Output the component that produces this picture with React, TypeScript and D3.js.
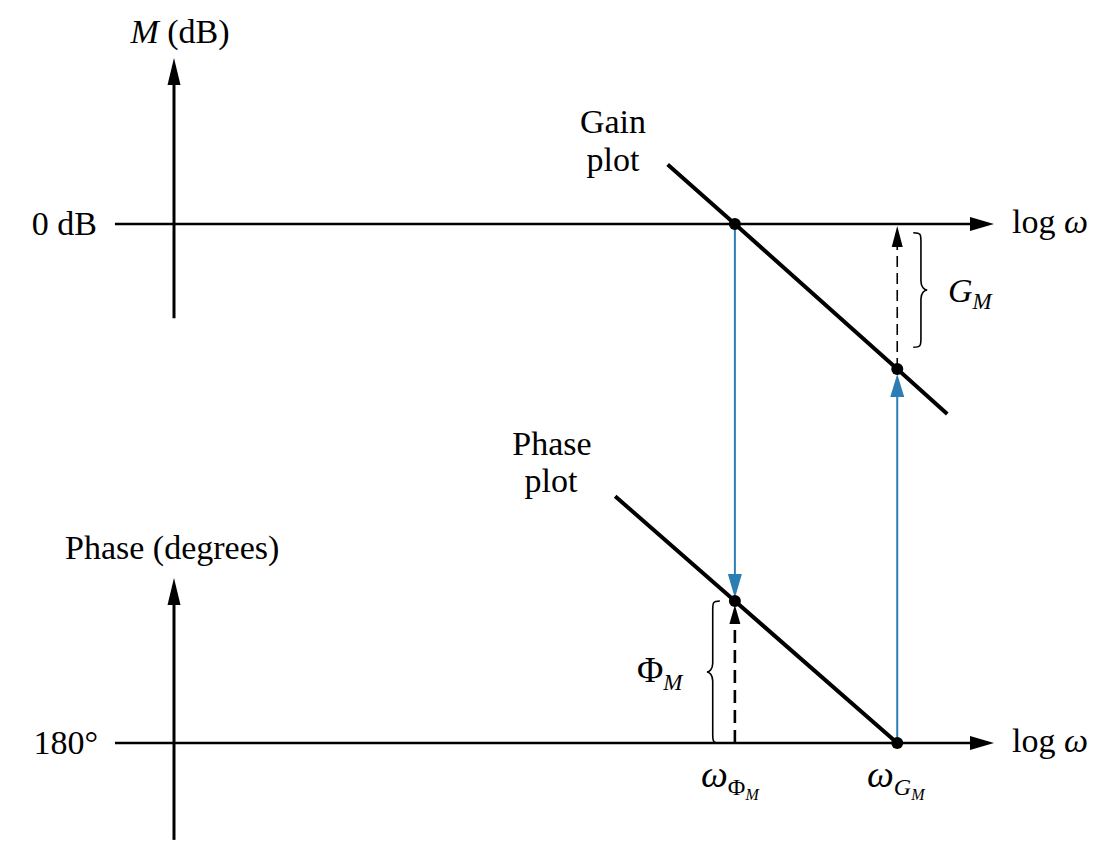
import React from "react";
import * as d3 from "d3";

// Frequency axis (log ω, arbitrary units)
const axisW = [-0.72, 10];
const wPhiM = 6.84; // gain crossover, where phase margin is read
const wGM = 8.82; // phase crossover, where gain margin is read

// Gain plot (dB)
const gainW = [6.02, 6.84, 8.82, 9.43];
const gainDb = [4.1, 0, -10, -13.1];
const gainAxisDb = [-6.5, 11.45];

// Phase plot (degrees)
const phaseW = [5.38, 6.84, 8.82];
const phaseDeg = [-101.8, -135, -180];
const phaseAxisDeg = [-210.7, -127.7];

// Tick labels
const gainTicks = [{ v: 0, label: "0 dB" }];
const phaseTicks = [{ v: -180, label: "180°" }];

const W = 1099;
const H = 851;
const SERIF = "'Liberation Serif', 'Times New Roman', Times, serif";
const BLUE = "#2b7db3";
const FS = 34;

const x = d3.scaleLinear().domain([0, 10]).range([174, 994]);
const yGain = d3.scaleLinear().domain([-10, 0]).range([369, 224]);
const yPhase = d3.scaleLinear().domain([-180, -135]).range([743, 601]);

// triangle with tip at (tx,ty) pointing in a direction
const head = (tx: number, ty: number, dir: "up" | "down" | "right", len: number, wid: number) => {
  const h = wid / 2;
  if (dir === "up") return `${tx},${ty} ${tx - h},${ty + len} ${tx + h},${ty + len}`;
  if (dir === "down") return `${tx},${ty} ${tx - h},${ty - len} ${tx + h},${ty - len}`;
  return `${tx},${ty} ${tx - len},${ty - h} ${tx - len},${ty + h}`;
};

// curly brace, vertical, tip pointing left (side=-1) or right (side=1)
const brace = (bx: number, y0: number, y1: number, side: number, depth: number) => {
  const ym = (y0 + y1) / 2;
  const d = depth * side;
  const xm = bx + d * 0.55;
  const r = 9;
  return [
    `M${bx},${y0}`,
    `C${xm},${y0} ${xm},${y0 + 2} ${xm},${y0 + r}`,
    `L${xm},${ym - r}`,
    `C${xm},${ym - 3} ${bx + d * 0.8},${ym} ${bx + d},${ym}`,
    `C${bx + d * 0.8},${ym} ${xm},${ym + 3} ${xm},${ym + r}`,
    `L${xm},${y1 - r}`,
    `C${xm},${y1 - 2} ${xm},${y1} ${bx},${y1}`,
  ].join(" ");
};

const App = () => {
  const gainLine = d3
    .line<number>()
    .x((_, i) => x(gainW[i]))
    .y((d) => yGain(d))(gainDb);
  const phaseLine = d3
    .line<number>()
    .x((_, i) => x(phaseW[i]))
    .y((d) => yPhase(d))(phaseDeg);

  const x0 = x(0);
  const xL = x(axisW[0]);
  const xR = x(axisW[1]);
  const y0dB = yGain(0);
  const y180 = yPhase(-180);
  const xP = x(wPhiM);
  const xG = x(wGM);
  const gmDb = gainDb[gainW.indexOf(wGM)];
  const pmDeg = phaseDeg[phaseW.indexOf(wPhiM)];
  const yGm = yGain(gmDb);
  const yPm = yPhase(pmDeg);

  return (
    <svg
      width={W}
      height={H}
      style={{ position: "absolute", left: 0, top: 0, background: "#fff" }}
      fontFamily={SERIF}
    >
      {/* ---------- gain axes ---------- */}
      <line x1={x0} x2={x0} y1={yGain(gainAxisDb[0])} y2={yGain(gainAxisDb[1]) + 20} stroke="#000" strokeWidth={3} />
      <polygon points={head(x0, yGain(gainAxisDb[1]), "up", 27, 13)} fill="#000" />
      <line x1={xL} x2={xR - 20} y1={y0dB} y2={y0dB} stroke="#000" strokeWidth={2.5} />
      <polygon points={head(xR, y0dB, "right", 24, 14)} fill="#000" />

      <text x={180} y={43} fontSize={FS} textAnchor="middle">
        <tspan fontStyle="italic">M</tspan> (dB)
      </text>
      {gainTicks.map((t) => (
        <text key={t.label} x={97} y={yGain(t.v) + 11} fontSize={FS} textAnchor="end">
          {t.label}
        </text>
      ))}
      <text x={1012} y={y0dB + 9} fontSize={FS}>
        log <tspan fontStyle="italic">ω</tspan>
      </text>

      {/* ---------- phase axes ---------- */}
      <line x1={x0} x2={x0} y1={yPhase(phaseAxisDeg[0])} y2={yPhase(phaseAxisDeg[1]) + 20} stroke="#000" strokeWidth={3} />
      <polygon points={head(x0, yPhase(phaseAxisDeg[1]), "up", 27, 13)} fill="#000" />
      <line x1={xL} x2={xR - 20} y1={y180} y2={y180} stroke="#000" strokeWidth={2.5} />
      <polygon points={head(xR, y180, "right", 24, 14)} fill="#000" />

      <text x={65} y={559} fontSize={FS}>
        Phase (degrees)
      </text>
      {phaseTicks.map((t) => (
        <text key={t.label} x={98} y={yPhase(t.v) + 11} fontSize={FS} textAnchor="end">
          {t.label}
        </text>
      ))}
      <text x={1012} y={y180 + 9} fontSize={FS}>
        log <tspan fontStyle="italic">ω</tspan>
      </text>

      {/* ---------- blue projection lines ---------- */}
      <line x1={xP} x2={xP} y1={y0dB} y2={yPm - 24} stroke={BLUE} strokeWidth={2} />
      <polygon points={head(xP, yPm - 3, "down", 24, 14)} fill={BLUE} />
      <line x1={xG} x2={xG} y1={y180} y2={yGm + 24} stroke={BLUE} strokeWidth={2} />
      <polygon points={head(xG, yGm + 5, "up", 23, 14)} fill={BLUE} />

      {/* ---------- margins (dashed) ---------- */}
      <line x1={xG} x2={xG} y1={yGm} y2={y0dB + 20} stroke="#000" strokeWidth={1.6} strokeDasharray="11 6" />
      <polygon points={head(xG, y0dB + 2, "up", 21, 11)} fill="#000" />
      <line x1={xP} x2={xP} y1={y180} y2={yPm + 18} stroke="#000" strokeWidth={2.6} strokeDasharray="13 7" />
      <polygon points={head(xP, yPm + 4, "up", 19, 11)} fill="#000" />

      <path d={brace(xG + 16, yGain(-0.6), yGain(-8.5), 1, 14)} fill="none" stroke="#000" strokeWidth={1.6} />
      <path d={brace(xP - 15, yPm, y180, -1, 13)} fill="none" stroke="#000" strokeWidth={1.6} />

      <text x={948} y={302} fontSize={FS} fontStyle="italic">
        G
        <tspan fontSize={23} dy={7}>M</tspan>
      </text>
      <text x={637} y={682} fontSize={36}>
        Φ
        <tspan fontSize={23} dy={8} fontStyle="italic">M</tspan>
      </text>

      {/* ---------- gain / phase plots ---------- */}
      <path d={gainLine ?? ""} fill="none" stroke="#000" strokeWidth={4} />
      <path d={phaseLine ?? ""} fill="none" stroke="#000" strokeWidth={4} />

      <circle cx={xP} cy={y0dB} r={6} fill="#000" />
      <circle cx={xG} cy={yGm} r={6} fill="#000" />
      <circle cx={xP} cy={yPm} r={6} fill="#000" />
      <circle cx={xG} cy={y180} r={6} fill="#000" />

      <text x={613} y={133} fontSize={FS} textAnchor="middle">Gain</text>
      <text x={613} y={171} fontSize={FS} textAnchor="middle">plot</text>
      <text x={552} y={455} fontSize={FS} textAnchor="middle">Phase</text>
      <text x={551} y={492} fontSize={FS} textAnchor="middle">plot</text>

      {/* ---------- frequency labels ---------- */}
      <text x={701} y={787} fontSize={38}>
        <tspan fontStyle="italic">ω</tspan>
        <tspan fontSize={24} dy={8}>Φ</tspan>
        <tspan fontSize={16} dy={5} fontStyle="italic">M</tspan>
      </text>
      <text x={867} y={787} fontSize={38}>
        <tspan fontStyle="italic">ω</tspan>
        <tspan fontSize={24} dy={8} fontStyle="italic">G</tspan>
        <tspan fontSize={16} dy={5} fontStyle="italic">M</tspan>
      </text>
    </svg>
  );
};

export default App;
